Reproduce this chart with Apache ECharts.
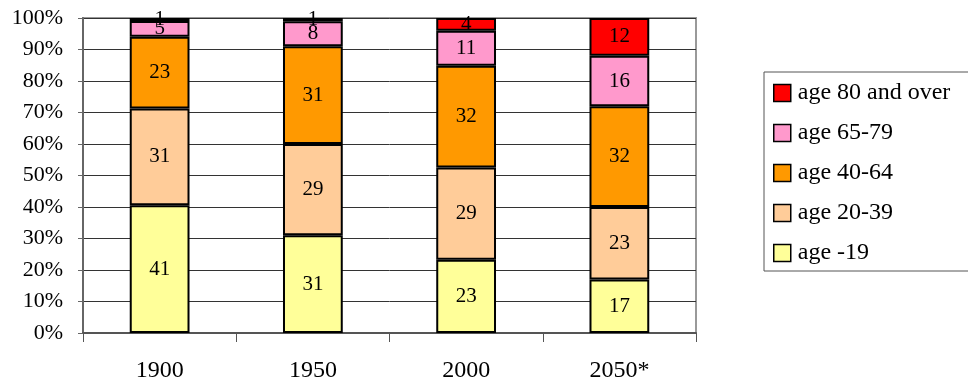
<!DOCTYPE html>
<html>
<head>
<meta charset="utf-8">
<script src="https://cdn.jsdelivr.net/npm/echarts@6/dist/echarts.min.js"></script>
<style>
  html, body { margin: 0; padding: 0; background: #fff; }
  #chart { width: 968px; height: 385px; }
</style>
</head>
<body>
<div id="chart"></div>
<script>
// Population by age group (numbers shown in each block)
const years = ['1900', '1950', '2000', '2050*'];
const ageUnder19 = [41, 31, 23, 17];
const age20to39 = [31, 29, 29, 23];
const age40to64 = [23, 31, 32, 32];
const age65to79 = [5, 8, 11, 16];
const age80plus = [1, 1, 4, 12];

const groups = [
  { name: 'age -19', values: ageUnder19, color: '#FFFF99' },
  { name: 'age 20-39', values: age20to39, color: '#FFCC99' },
  { name: 'age 40-64', values: age40to64, color: '#FF9900' },
  { name: 'age 65-79', values: age65to79, color: '#FF99CC' },
  { name: 'age 80 and over', values: age80plus, color: '#FF0000' }
];

// Column totals, used to stack each column to 100%
const totals = years.map((_, i) => groups.reduce((s, g) => s + g.values[i], 0));

const FONT = 'Liberation Serif';

const series = groups.map(g => ({
  name: g.name,
  type: 'bar',
  stack: 'share',
  barWidth: '39%',
  data: g.values.map((v, i) => ({ value: v / totals[i] * 100, raw: v })),
  itemStyle: { color: g.color, borderColor: '#000', borderWidth: 2 },
  label: {
    show: true,
    position: 'inside',
    color: '#000',
    fontFamily: FONT,
    fontSize: 21,
    formatter: p => String(p.data.raw)
  },
  emphasis: { disabled: true }
}));

const chart = echarts.init(document.getElementById('chart'), null, { renderer: 'canvas' });
chart.setOption({
  animation: false,
  backgroundColor: '#fff',
  grid: {
    left: 83, right: 272, top: 18, bottom: 52,
    show: true, borderColor: '#999', borderWidth: 2, backgroundColor: 'transparent'
  },
  xAxis: {
    type: 'category',
    data: years,
    axisLine: { lineStyle: { color: '#555', width: 2 } },
    axisTick: { show: true, length: 9, lineStyle: { color: '#555', width: 1 } },
    axisLabel: { color: '#000', fontFamily: FONT, fontSize: 24, margin: 26 }
  },
  yAxis: {
    type: 'value',
    min: 0, max: 100, interval: 10,
    axisLine: { show: true, lineStyle: { color: '#666', width: 2 } },
    axisTick: { show: true, length: 5, lineStyle: { color: '#666' } },
    splitLine: { show: true, lineStyle: { color: '#333', width: 1 } },
    axisLabel: { color: '#000', fontFamily: FONT, fontSize: 22, margin: 20, formatter: '{value}%' }
  },
  legend: {
    orient: 'vertical',
    left: 764,
    top: 72,
    data: groups.map(g => g.name).reverse(),
    backgroundColor: '#fff',
    borderColor: '#555',
    borderWidth: 1,
    padding: [9, 60, 6, 9],
    itemWidth: 17,
    itemHeight: 17,
    itemGap: 16,
    icon: 'rect',
    itemStyle: { borderColor: '#000', borderWidth: 1.5 },
    textStyle: { color: '#000', fontFamily: FONT, fontSize: 24, lineHeight: 24, padding: [0, 0, 0, 2] },
    selectedMode: false
  },
  series: series
});
</script>
</body>
</html>
